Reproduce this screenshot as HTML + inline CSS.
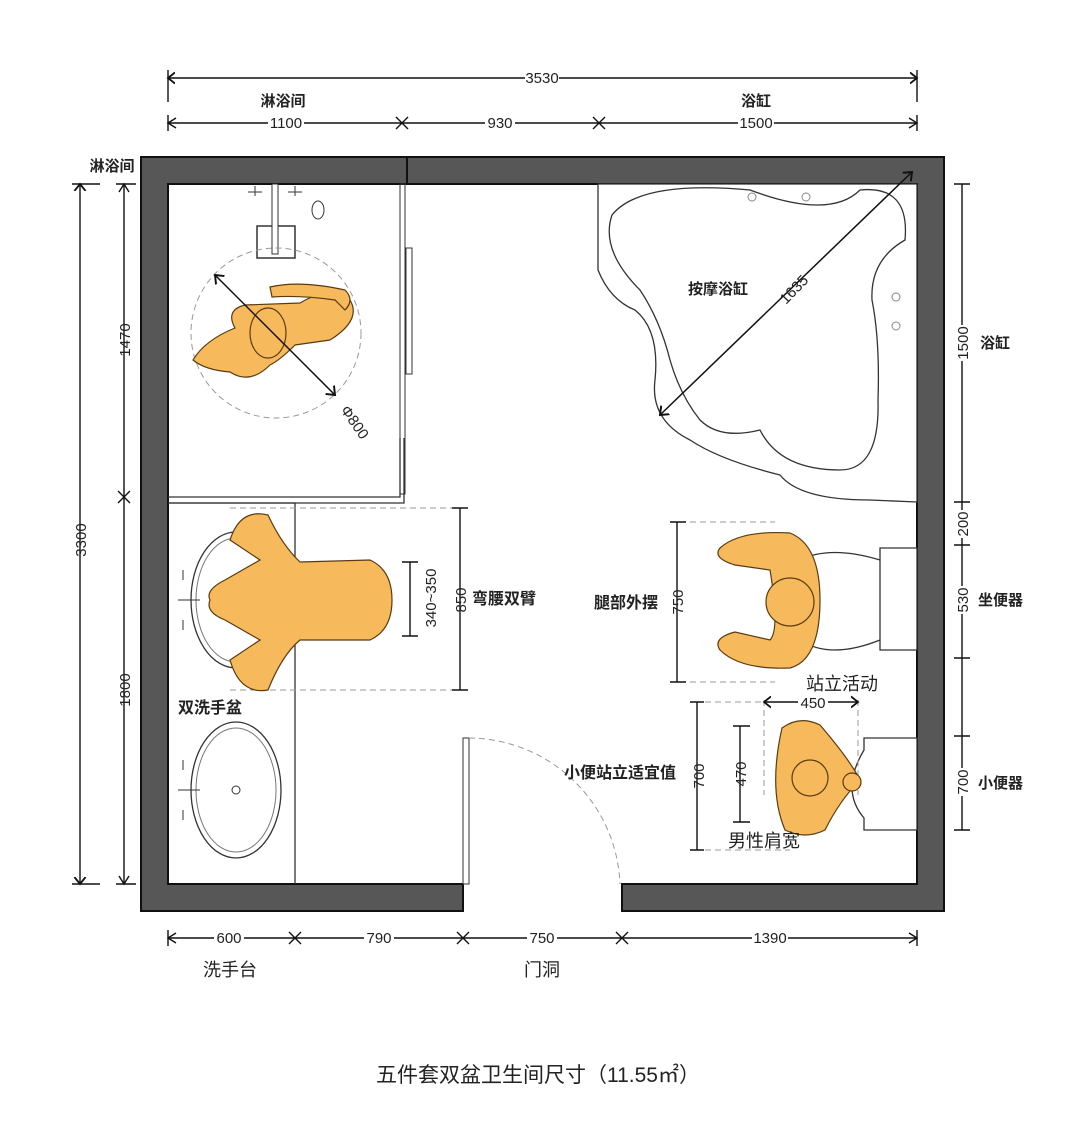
<!DOCTYPE html>
<html><head><meta charset="utf-8"><style>
body{margin:0;background:#fff}
svg{display:block}
text{font-family:"Liberation Sans","Noto Sans CJK SC",sans-serif;fill:#222}
.d{stroke:#111;stroke-width:1.4;fill:none}
.t{font-size:15px}
.c{font-weight:bold}
.o{fill:#F6BA5C;stroke:#5a3a10;stroke-width:1.2}
.f{fill:#fff;stroke:#333;stroke-width:1.3}
.g{stroke:#999;stroke-width:1;stroke-dasharray:6 4;fill:none}
</style></head><body>
<svg width="1079" height="1133" viewBox="0 0 1079 1133">
<defs><marker id="a" markerWidth="10" markerHeight="10" refX="5" refY="5" orient="auto"><path d="M0,1 L5,5 L0,9" fill="none" stroke="#111" stroke-width="1.3"/></marker>
<marker id="b" markerWidth="10" markerHeight="10" refX="5" refY="5" orient="auto"><path d="M10,1 L5,5 L10,9" fill="none" stroke="#111" stroke-width="1.3"/></marker></defs>
<path d="M141,157 H944 V911 H622 V884 H917 V184 H168 V884 H463 V911 H141 Z" fill="#575757" stroke="#111" stroke-width="2"/>
<line x1="407" y1="157" x2="407" y2="184" stroke="#111" stroke-width="2"/>
<g class="d">
<line x1="168" y1="78" x2="917" y2="78" marker-start="url(#b)" marker-end="url(#a)"/>
<line x1="168" y1="70" x2="168" y2="102"/><line x1="917" y1="70" x2="917" y2="102"/>
<line x1="168" y1="123" x2="917" y2="123"/>
<line x1="168" y1="115" x2="168" y2="131"/><line x1="917" y1="115" x2="917" y2="131"/>
<path d="M396,117 L408,129 M396,129 L408,117 M593,117 L605,129 M593,129 L605,117"/>
<path d="M176,118 L168,123 L176,128 M909,118 L917,123 L909,128"/>
</g>
<rect x="525" y="70" width="34" height="16" fill="#fff"/><text x="542" y="83" class="t" text-anchor="middle">3530</text>
<rect x="268" y="115" width="36" height="16" fill="#fff"/><text x="286" y="128" class="t" text-anchor="middle">1100</text>
<rect x="485" y="115" width="30" height="16" fill="#fff"/><text x="500" y="128" class="t" text-anchor="middle">930</text>
<rect x="738" y="115" width="36" height="16" fill="#fff"/><text x="756" y="128" class="t" text-anchor="middle">1500</text>
<text x="283" y="106" class="t c" text-anchor="middle">淋浴间</text>
<text x="756" y="106" class="t c" text-anchor="middle">浴缸</text>
<text x="112" y="171" class="t c" text-anchor="middle">淋浴间</text>
<g class="d">
<line x1="80" y1="184" x2="80" y2="884" marker-start="url(#b)" marker-end="url(#a)"/>
<line x1="72" y1="184" x2="100" y2="184"/><line x1="72" y1="884" x2="100" y2="884"/>
<line x1="124" y1="184" x2="124" y2="884"/>
<line x1="116" y1="184" x2="136" y2="184"/><line x1="116" y1="884" x2="136" y2="884"/>
<path d="M118,491 L130,503 M118,503 L130,491 M119,192 L124,184 L129,192 M119,876 L124,884 L129,876"/>
</g>
<g font-size="15">
<text transform="translate(86,540) rotate(-90)" text-anchor="middle">3300</text>
<text transform="translate(130,340) rotate(-90)" text-anchor="middle">1470</text>
<text transform="translate(130,690) rotate(-90)" text-anchor="middle">1800</text>
</g>
<g class="d">
<line x1="962" y1="184" x2="962" y2="830"/>
<path d="M954,184 H970 M954,502 H970 M954,545 H970 M954,658 H970 M954,736 H970 M954,830 H970"/>
</g>
<g font-size="15">
<rect x="955" y="325" width="14" height="36" fill="#fff"/><text transform="translate(968,343) rotate(-90)" text-anchor="middle">1500</text>
<rect x="955" y="510" width="14" height="28" fill="#fff"/><text transform="translate(968,524) rotate(-90)" text-anchor="middle">200</text>
<rect x="955" y="586" width="14" height="28" fill="#fff"/><text transform="translate(968,600) rotate(-90)" text-anchor="middle">530</text>
<rect x="955" y="768" width="14" height="28" fill="#fff"/><text transform="translate(968,782) rotate(-90)" text-anchor="middle">700</text>
<text x="980" y="348" class="c">浴缸</text>
<text x="978" y="605" class="c">坐便器</text>
<text x="978" y="788" class="c">小便器</text>
</g>
<g class="d">
<line x1="168" y1="938" x2="917" y2="938"/>
<path d="M168,930 V946 M917,930 V946 M176,933 L168,938 L176,943 M909,933 L917,938 L909,943"/>
<path d="M289,932 L301,944 M289,944 L301,932 M457,932 L469,944 M457,944 L469,932 M616,932 L628,944 M616,944 L628,932"/>
</g>
<rect x="214" y="930" width="30" height="16" fill="#fff"/><text x="229" y="943" class="t" text-anchor="middle">600</text>
<rect x="364" y="930" width="30" height="16" fill="#fff"/><text x="379" y="943" class="t" text-anchor="middle">790</text>
<rect x="527" y="930" width="30" height="16" fill="#fff"/><text x="542" y="943" class="t" text-anchor="middle">750</text>
<rect x="752" y="930" width="36" height="16" fill="#fff"/><text x="770" y="943" class="t" text-anchor="middle">1390</text>
<text x="230" y="976" font-size="18" text-anchor="middle">洗手台</text>
<text x="542" y="976" font-size="18" text-anchor="middle">门洞</text>
<text x="538" y="1082" font-size="21" text-anchor="middle" fill="#333">五件套双盆卫生间尺寸（11.55㎡）</text>
<path d="M168,497 H400 V438 M168,503 H404 V438" fill="none" stroke="#333" stroke-width="1.3"/>
<rect x="400" y="184" width="5" height="310" fill="none" stroke="#333"/>
<rect x="406" y="248" width="6" height="126" fill="none" stroke="#333"/>
<rect x="257" y="226" width="38" height="32" fill="none" stroke="#333" stroke-width="1.5"/>
<rect x="272" y="184" width="6" height="70" fill="#fff" stroke="#333"/>
<path d="M248,192 H262 M255,186 V196 M288,192 H302 M295,186 V196" stroke="#333"/>
<ellipse cx="318" cy="210" rx="6" ry="9" fill="none" stroke="#333"/>
<circle cx="276" cy="333" r="85" class="g"/>
<path class="o" d="M193,360 Q205,340 235,328 Q225,310 245,305 L300,303 Q330,285 350,300 Q362,320 330,340 L295,345 Q280,360 270,365 Q250,385 230,372 Q205,370 193,360 Z"/>
<path class="o" d="M270,287 Q300,280 345,290 Q355,300 345,310 L335,300 Q300,295 272,297 Z"/>
<ellipse cx="268" cy="333" rx="18" ry="25" class="o"/>
<line x1="215" y1="275" x2="335" y2="395" stroke="#111" stroke-width="1.5" marker-start="url(#b)" marker-end="url(#a)"/>
<text transform="translate(340,410) rotate(55)" font-size="15">Φ800</text>
<path d="M168,503 H295 V884" fill="none" stroke="#333" stroke-width="1.3"/>
<ellipse cx="236" cy="600" rx="45" ry="68" class="f"/>
<ellipse cx="236" cy="600" rx="40" ry="62" fill="none" stroke="#777"/>
<ellipse cx="236" cy="790" rx="45" ry="68" class="f"/>
<ellipse cx="236" cy="790" rx="40" ry="62" fill="none" stroke="#777"/>
<circle cx="236" cy="790" r="4" fill="none" stroke="#333"/>
<path d="M178,600 H200 M178,790 H200 M183,570 V580 M183,620 V630 M183,760 V770 M183,810 V820" stroke="#333"/>
<path class="g" d="M230,508 H460 M230,690 H460"/>
<path class="o" d="M230,540 Q240,508 268,515 Q282,545 300,562 L370,560 Q392,570 392,600 Q392,630 370,640 L300,640 Q282,655 268,690 Q240,695 230,660 Q245,650 260,640 L225,620 Q205,612 210,600 Q205,590 225,580 L260,560 Q245,550 230,540 Z"/>
<g class="d"><line x1="460" y1="508" x2="460" y2="690"/><path d="M452,508 H468 M452,690 H468"/>
<line x1="410" y1="562" x2="410" y2="636"/><path d="M402,562 H418 M402,636 H418"/></g>
<text transform="translate(436,598) rotate(-90)" font-size="15" text-anchor="middle">340~350</text>
<text transform="translate(466,600) rotate(-90)" font-size="15" text-anchor="middle">850</text>
<text x="472" y="604" font-size="16" class="c">弯腰双臂</text>
<text x="178" y="713" font-size="16" class="c">双洗手盆</text>
<rect x="463" y="738" width="6" height="146" fill="#fff" stroke="#333"/>
<path d="M469,738 A152,152 0 0 1 620,884" class="g"/>
<path d="M598,184 V270 Q610,300 635,310 Q660,330 655,380 Q650,420 690,440 Q720,460 780,475 Q800,500 870,500 L917,502 V184 Z" fill="#fff" stroke="#333" stroke-width="1.3"/>
<path class="f" d="M612,215 Q640,180 750,190 Q830,220 860,190 Q910,185 905,240 Q870,260 872,300 Q880,340 878,400 Q880,470 840,470 Q780,470 760,430 Q720,440 700,420 Q680,395 670,360 Q660,320 640,290 Q600,250 612,215 Z"/>
<g fill="none" stroke="#888"><circle cx="752" cy="197" r="4"/><circle cx="806" cy="197" r="4"/><circle cx="896" cy="297" r="4"/><circle cx="896" cy="326" r="4"/></g>
<line x1="660" y1="415" x2="912" y2="172" stroke="#111" stroke-width="1.5" marker-start="url(#b)" marker-end="url(#a)"/>
<text x="688" y="294" font-size="15" class="c">按摩浴缸</text>
<text transform="translate(786,305) rotate(-46)" font-size="15">1635</text>
<path d="M880,548 H917 V650 H880 Z M880,560 Q830,545 800,560 Q760,600 800,640 Q830,660 880,640" fill="#fff" stroke="#333" stroke-width="1.3"/>
<path class="g" d="M680,522 H775 M680,682 H775"/>
<g class="d"><line x1="677" y1="522" x2="677" y2="682"/><path d="M670,522 H686 M670,682 H686"/></g>
<text transform="translate(683,602) rotate(-90)" font-size="15" text-anchor="middle">750</text>
<text x="594" y="608" font-size="16" class="c">腿部外摆</text>
<path class="o" d="M720,548 Q740,530 790,533 Q820,545 820,600 Q820,660 790,668 Q740,670 720,650 Q712,638 735,632 L770,640 Q780,630 770,570 L735,565 Q712,558 720,548 Z"/>
<circle cx="790" cy="602" r="24" class="o"/>
<text x="806" y="690" font-size="18">站立活动</text>
<path d="M864,738 H917 V830 H864 V818 Q840,790 864,750 Z" fill="#fff" stroke="#333" stroke-width="1.3"/>
<path class="g" d="M764,700 V795 M858,700 V795 M695,702 H764 M695,850 H790"/>
<g class="d"><line x1="764" y1="702" x2="858" y2="702" marker-start="url(#b)" marker-end="url(#a)"/>
<line x1="697" y1="702" x2="697" y2="850"/><path d="M690,702 H704 M690,850 H704"/>
<line x1="740" y1="726" x2="740" y2="822"/><path d="M733,726 H750 M733,822 H750"/></g>
<rect x="798" y="694" width="30" height="16" fill="#fff"/><text x="813" y="708" font-size="15" text-anchor="middle">450</text>
<text transform="translate(704,776) rotate(-90)" font-size="15" text-anchor="middle">700</text>
<text transform="translate(746,774) rotate(-90)" font-size="15" text-anchor="middle">470</text>
<path class="o" d="M782,728 Q800,715 820,725 Q850,760 860,780 Q840,800 825,830 Q805,840 785,830 Q768,790 782,728 Z"/>
<circle cx="810" cy="778" r="18" class="o"/>
<circle cx="852" cy="782" r="9" class="o"/>
<text x="564" y="778" font-size="16" class="c">小便站立适宜值</text>
<text x="728" y="847" font-size="18">男性肩宽</text>
</svg>
</body></html>
